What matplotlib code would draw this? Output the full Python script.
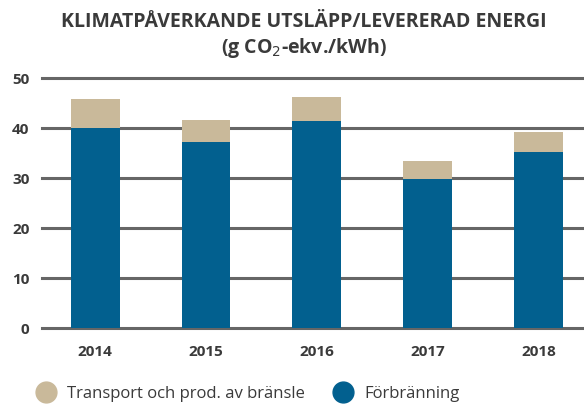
import matplotlib.pyplot as plt
from matplotlib.lines import Line2D

years = ['2014', '2015', '2016', '2017', '2018']
forbranning = [40.1, 37.3, 41.4, 29.9, 35.3]
transport = [5.8, 4.4, 4.8, 3.6, 3.9]

blue = '#02608f'
tan = '#c9b99a'
txt = '#3a3a3a'

plt.rcParams['font.family'] = ['Open Sans', 'DejaVu Sans']

fig = plt.figure(figsize=(5.84, 4.07), dpi=100)
ax = fig.add_axes([42/584, 79/407, 542/584, 250/407])

x = range(len(years))
ax.bar(x, forbranning, width=0.44, color=blue, zorder=3)
ax.bar(x, transport, width=0.44, bottom=forbranning, color=tan, zorder=3)

ax.set_ylim(0, 50)
ax.set_xlim(-0.48, 4.41)
ax.set_yticks([0, 10, 20, 30, 40, 50])
ax.set_xticks(list(x))
ax.set_xticklabels(years)
for lab in ax.get_xticklabels() + ax.get_yticklabels():
    lab.set_fontweight('bold')
    lab.set_color(txt)
    lab.set_fontsize(11)
ax.tick_params(axis='both', length=0)
ax.tick_params(axis='y', pad=9)
ax.tick_params(axis='x', pad=12)
for s in ax.spines.values():
    s.set_visible(False)
ax.yaxis.grid(True, color='#666666', linewidth=2.2, zorder=1)
for gl in ax.get_ygridlines():
    gl.set_clip_on(False)

fig.text(0.52, 0.945, 'KLIMATPÅVERKANDE UTSLÄPP/LEVERERAD ENERGI', ha='center', va='center',
         fontsize=14, fontweight='bold', color=txt)
fig.text(0.52, 0.883, '(g CO$_2$-ekv./kWh)', ha='center', va='center',
         fontsize=14, fontweight='bold', color=txt)

handles = [Line2D([], [], marker='o', linestyle='none', markersize=15, color=tan),
           Line2D([], [], marker='o', linestyle='none', markersize=15, color=blue)]
fig.legend(handles, ['Transport och prod. av bränsle', 'Förbränning'], ncol=2,
           loc='center left', bbox_to_anchor=(0.025, 0.033), frameon=False,
           fontsize=12, handletextpad=0.25, columnspacing=1.3, labelcolor=txt)

plt.savefig('out.png', dpi=100)
